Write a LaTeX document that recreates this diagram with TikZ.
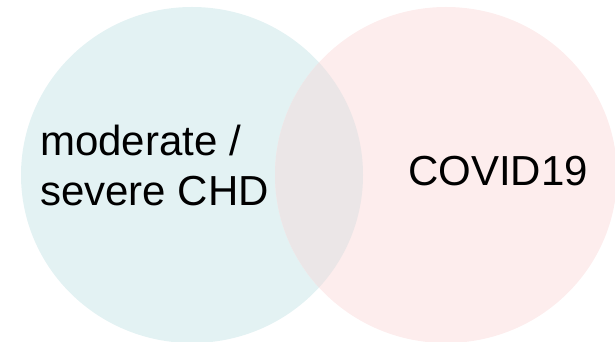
\documentclass[tikz,border=0pt]{standalone}
\usepackage{fontspec}
\usetikzlibrary{shapes.geometric}
\setmainfont{Liberation Sans}
\definecolor{chdteal}{HTML}{E3F2F3}
\definecolor{covidpink}{HTML}{FDEDED}
\definecolor{bothgrey}{HTML}{EBE6E7}

\begin{document}
\begin{tikzpicture}[x=1pt,y=1pt,
  set node/.style={ellipse,minimum width=342pt,minimum height=336pt,inner sep=0pt},
  label node/.style={font=\fontsize{42}{50}\selectfont,inner sep=0pt}]
  \useasboundingbox (0,0) rectangle (615,342);

  \node[set node,fill=chdteal] (chd) at (192,167) {};
  \node[set node,fill=covidpink] (covid) at (446,167) {};
  % shared part of the two sets
  \begin{scope}
    \clip (chd.center) ellipse (171pt and 168pt);
    \fill[bothgrey] (covid.center) ellipse (171pt and 168pt);
  \end{scope}

  \node[label node,align=left] (chd label) at (154.5,177) {moderate /\\severe CHD};
  \node[label node] (covid label) at (498,170.5) {COVID19};
\end{tikzpicture}
\end{document}
